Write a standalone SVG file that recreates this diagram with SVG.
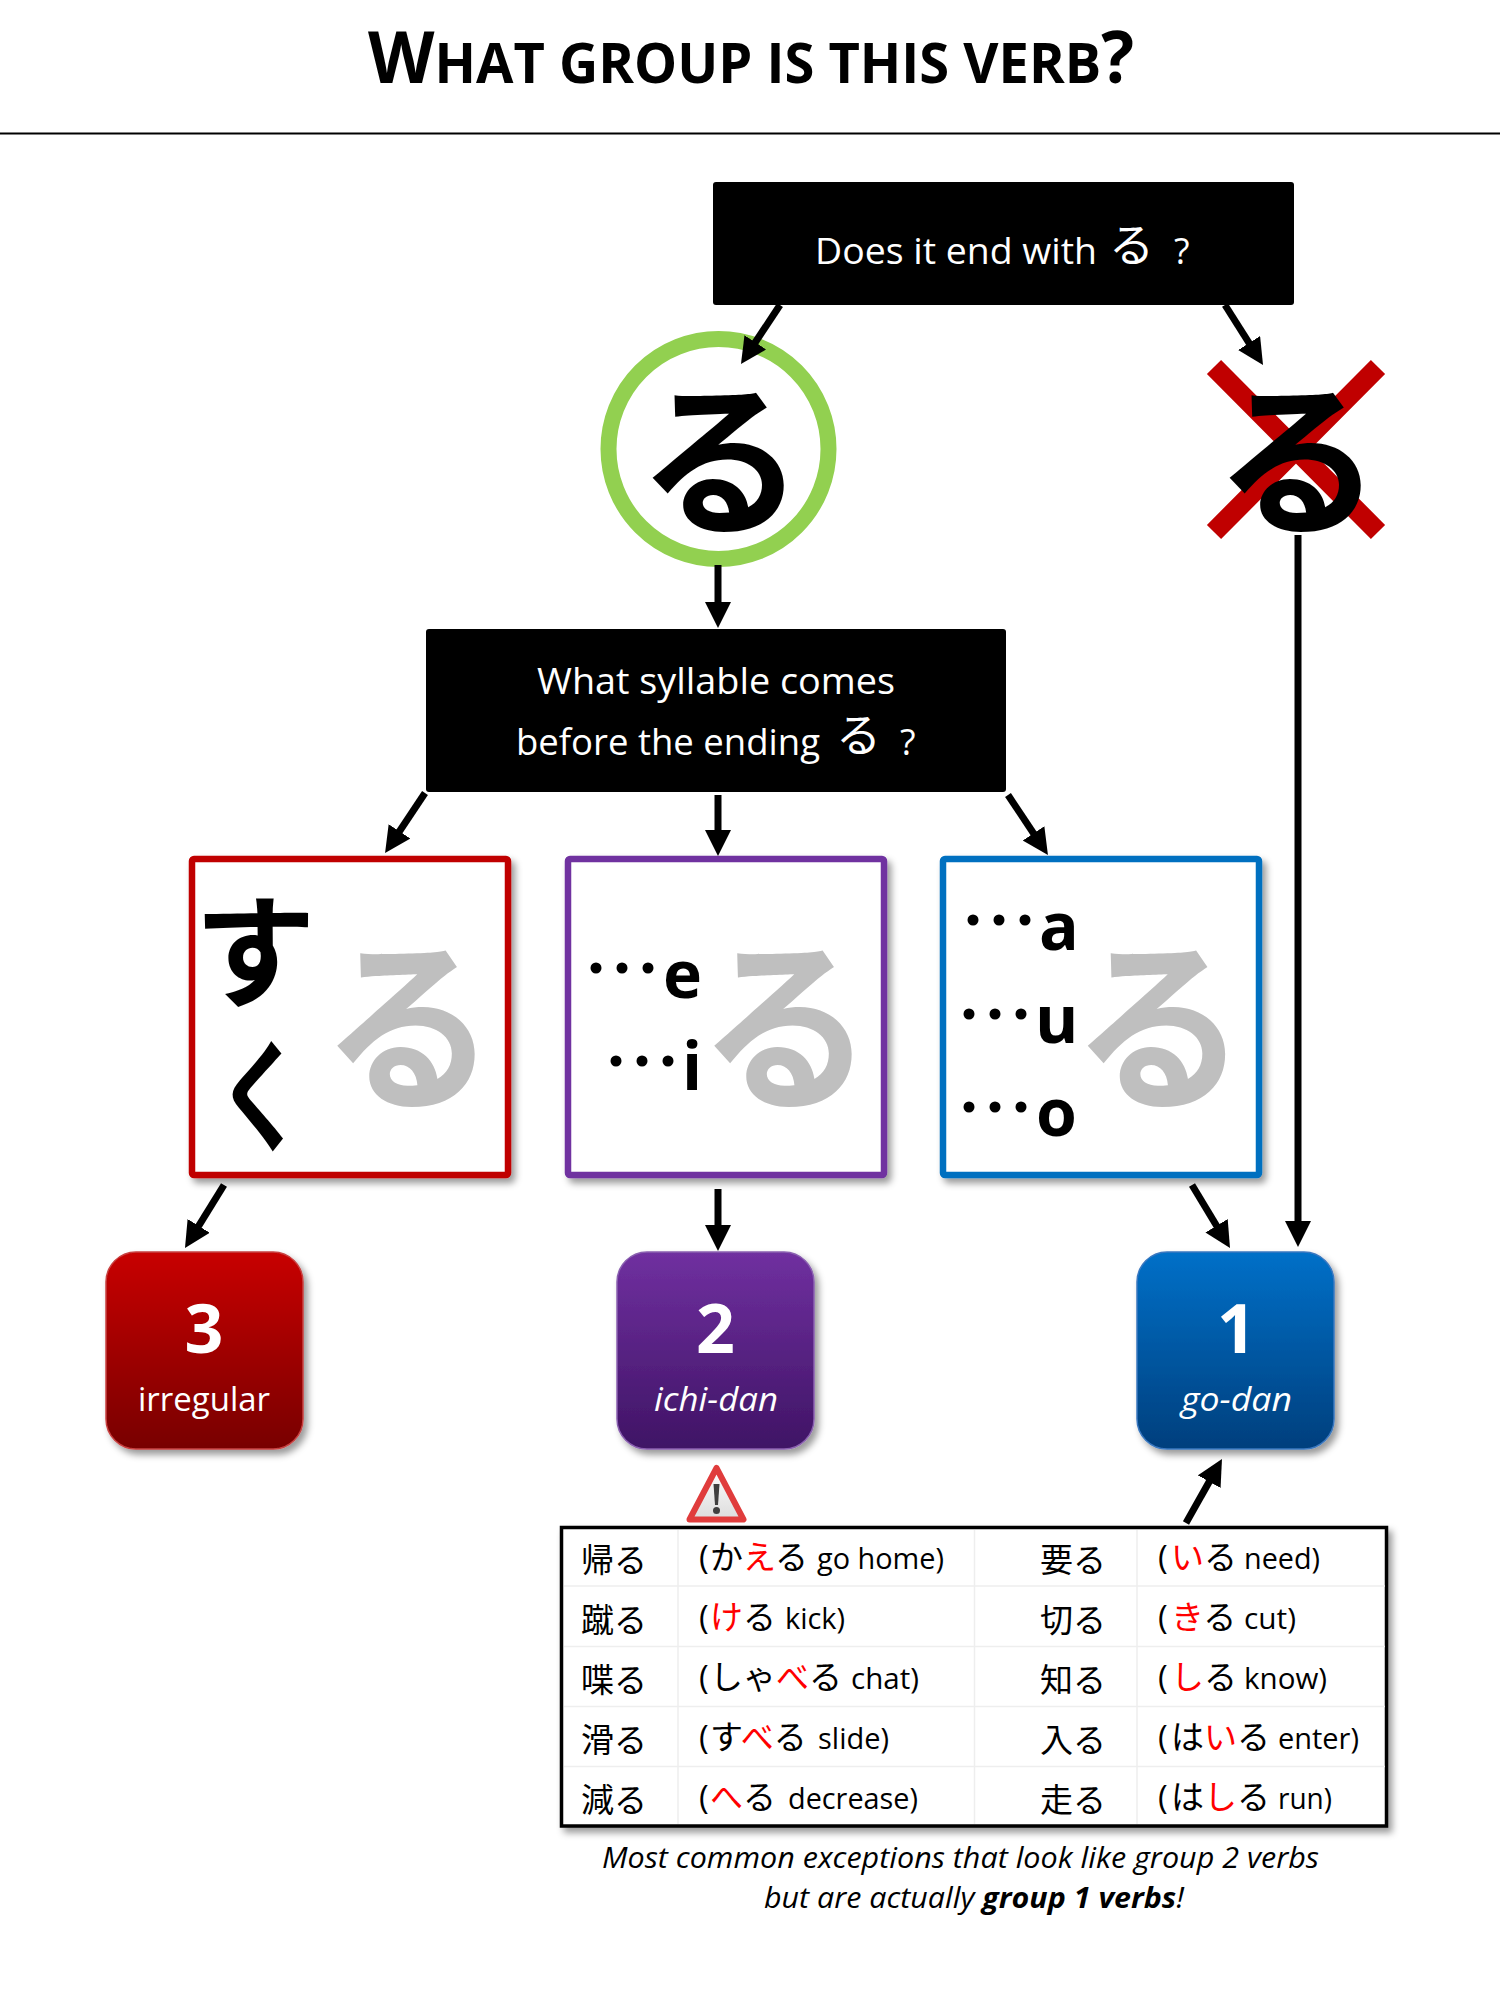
<svg xmlns="http://www.w3.org/2000/svg" width="1500" height="2000" viewBox="0 0 1500 2000">
<defs>
<style>
text{font-family:"Open Sans","Noto Sans",sans-serif}
.jp{font-family:"Noto Sans CJK JP",sans-serif}
.w{fill:#fff}
.q{font-size:36px;fill:#fff}
.gr{font-family:"Noto Sans CJK JP",sans-serif;font-size:187px;font-weight:700;fill:#bfbfbf;text-anchor:middle}
.bk{font-family:"Noto Sans CJK JP",sans-serif;font-size:166px;font-weight:700;fill:#000;text-anchor:middle}
.lt{font-size:66px;font-weight:700;fill:#000}
.num{font-size:68px;font-weight:700;fill:#fff;text-anchor:middle}
.t{font-size:33px;font-family:"Noto Sans CJK JP",sans-serif;fill:#000}
.r{fill:#f00}
.l{font-size:29px;fill:#000}
.p{font-size:33px;font-family:"Open Sans",sans-serif}
.d{fill:#000}
.g{fill:none;stroke:#eee;stroke-width:1.5}
.c{fill:none;stroke:#000;stroke-width:7;marker-end:url(#arrow)}
.sq{fill:#fff;stroke-width:6.5}
</style>
<marker id="arrow" markerUnits="userSpaceOnUse" markerWidth="28" markerHeight="28" refX="14" refY="13" orient="auto"><path d="M0 0L26 13L0 26z" fill="#000"/></marker>
<filter id="sh" x="-10%" y="-10%" width="125%" height="125%"><feDropShadow dx="4" dy="5" stdDeviation="3.500" flood-color="#000" flood-opacity="0.4"/></filter>
<linearGradient id="gr" x1="0" y1="0" x2="0" y2="1"><stop offset="0" stop-color="#c80000"/><stop offset="1" stop-color="#780000"/></linearGradient>
<linearGradient id="gp" x1="0" y1="0" x2="0" y2="1"><stop offset="0" stop-color="#7030a0"/><stop offset="1" stop-color="#3f1465"/></linearGradient>
<linearGradient id="gb" x1="0" y1="0" x2="0" y2="1"><stop offset="0" stop-color="#0070c8"/><stop offset="1" stop-color="#003f7d"/></linearGradient>
<linearGradient id="gw" x1="0" y1="0" x2="0" y2="1"><stop offset="0" stop-color="#ffffff"/><stop offset="1" stop-color="#dcdcdc"/></linearGradient>
</defs>
<rect width="1500" height="2000" fill="#fff"/>
<g id="title">
<text x="368" y="83" font-weight="700" textLength="766" lengthAdjust="spacingAndGlyphs"><tspan font-size="71">W</tspan><tspan font-size="56">HAT GROUP IS THIS VERB</tspan><tspan font-size="71">?</tspan></text>
<line x1="0" y1="133.500" x2="1500" y2="133.500" stroke="#000" stroke-width="2"/>
</g>
<g id="q1">
<rect x="713" y="182" width="581" height="123" rx="3" fill="#000"/>
<text class="q" x="815" y="264" textLength="282" lengthAdjust="spacingAndGlyphs">Does it end with</text>
<text class="jp w" x="1109" y="262" font-size="45">る</text>
<text class="q" x="1174" y="264">?</text>
</g>
<g id="yes">
<circle cx="718.500" cy="449" r="110" fill="#fff" stroke="#92d050" stroke-width="16"/>
<text class="bk" x="721" y="522">る</text>
</g>
<g id="no">
<path d="M1214 367L1378 532M1378 367L1214 532" stroke="#c00000" stroke-width="20" fill="none"/>
<text class="bk" x="1298" y="522">る</text>
</g>
<g id="q2">
<rect x="426" y="629" width="580" height="163" rx="3" fill="#000"/>
<text class="q" x="537" y="694" textLength="358" lengthAdjust="spacingAndGlyphs">What syllable comes</text>
<text class="q" x="516" y="755" textLength="304" lengthAdjust="spacingAndGlyphs">before the ending</text>
<text class="jp w" x="836" y="752" font-size="45">る</text>
<text class="q" x="900" y="755">?</text>
</g>
<g id="box-red">
<rect class="sq" x="192" y="859" width="316" height="316" rx="2" stroke="#c00000" filter="url(#sh)"/>
<text class="bk" style="font-size:122px;text-anchor:start" x="194" y="997">す</text>
<text class="bk" style="font-size:122px" transform="translate(261 1141) scale(.72 1)">く</text>
<text class="gr" transform="translate(409 1096) scale(.93 1)">る</text>
</g>
<g id="box-purple">
<rect class="sq" x="568" y="859" width="316" height="316" rx="2" stroke="#7030a0" filter="url(#sh)"/>
<g class="d"><circle cx="596" cy="968" r="5.500"/><circle cx="622" cy="968" r="5.500"/><circle cx="648" cy="968" r="5.500"/><circle cx="616" cy="1061" r="5.500"/><circle cx="642" cy="1061" r="5.500"/><circle cx="668" cy="1061" r="5.500"/></g>
<text class="lt" x="663" y="998">e</text>
<text class="lt" x="682" y="1090">i</text>
<text class="gr" transform="translate(786 1096) scale(.93 1)">る</text>
</g>
<g id="box-blue">
<rect class="sq" x="943" y="859" width="316" height="316" rx="2" stroke="#0070c0" filter="url(#sh)"/>
<g class="d"><circle cx="973" cy="920" r="5.500"/><circle cx="999" cy="920" r="5.500"/><circle cx="1025" cy="920" r="5.500"/><circle cx="969" cy="1014" r="5.500"/><circle cx="995" cy="1014" r="5.500"/><circle cx="1021" cy="1014" r="5.500"/><circle cx="969" cy="1107" r="5.500"/><circle cx="995" cy="1107" r="5.500"/><circle cx="1021" cy="1107" r="5.500"/></g>
<text class="lt" x="1039" y="950">a</text>
<text class="lt" x="1035" y="1043">u</text>
<text class="lt" x="1036" y="1136">o</text>
<text class="gr" transform="translate(1159.500 1096) scale(.93 1)">る</text>
</g>
<g id="group3">
<rect x="106" y="1252" width="197" height="197" rx="30" fill="url(#gr)" stroke="#c84040" stroke-width="1.500" filter="url(#sh)"/>
<text class="num" x="204" y="1353">3</text>
<text class="w" x="138" y="1411" font-size="33" textLength="132" lengthAdjust="spacingAndGlyphs">irregular</text>
</g>
<g id="group2">
<rect x="617" y="1252" width="197" height="197" rx="30" fill="url(#gp)" stroke="#8a60b0" stroke-width="1.500" filter="url(#sh)"/>
<text class="num" x="715.500" y="1353">2</text>
<text class="w" x="654" y="1411" font-size="33" font-style="italic" textLength="124" lengthAdjust="spacingAndGlyphs">ichi-dan</text>
</g>
<g id="group1">
<rect x="1137" y="1252" width="197" height="197" rx="30" fill="url(#gb)" stroke="#3a78c0" stroke-width="1.500" filter="url(#sh)"/>
<text class="num" x="1236.500" y="1353">1</text>
<text class="w" x="1181" y="1411" font-size="33" font-style="italic" textLength="111" lengthAdjust="spacingAndGlyphs">go-dan</text>
</g>
<g id="warning">
<path d="M716.500 1468L743.500 1519.500H689.500z" fill="url(#gw)" stroke="#e03c3c" stroke-width="6" stroke-linejoin="round"/>
<path d="M713.500 1484h6l-1.500 21h-3z" fill="#404040"/>
<circle cx="716.500" cy="1510.500" r="3.500" fill="#404040"/>
</g>
<g id="table">
<rect x="561.500" y="1527.500" width="825" height="298.500" fill="#fff" stroke="#000" stroke-width="3.500" filter="url(#sh)"/>
<path class="g" d="M678 1530V1824M974.500 1530V1824M1137 1530V1824M564 1586H1385M564 1646.500H1385M564 1706.500H1385M564 1766.500H1385"/>
<text class="t" x="581" y="1571.500">帰る</text>
<text class="t" x="581" y="1631.500">蹴る</text>
<text class="t" x="581" y="1691.500">喋る</text>
<text class="t" x="581" y="1751.500">滑る</text>
<text class="t" x="581" y="1811.500">減る</text>
<text class="t" x="1040" y="1571.500">要る</text>
<text class="t" x="1040" y="1631.500">切る</text>
<text class="t" x="1040" y="1691.500">知る</text>
<text class="t" x="1040" y="1751.500">入る</text>
<text class="t" x="1040" y="1811.500">走る</text>
<text class="p" x="699" y="1569">(</text><text class="t" x="710" y="1569">か<tspan class="r">え</tspan>る</text><text class="l" x="817" y="1569" textLength="127" lengthAdjust="spacingAndGlyphs">go home)</text>
<text class="p" x="699" y="1629">(</text><text class="t" x="710" y="1629"><tspan class="r">け</tspan>る</text><text class="l" x="785" y="1629" textLength="60" lengthAdjust="spacingAndGlyphs">kick)</text>
<text class="p" x="699" y="1689">(</text><text class="t" x="710" y="1689">しゃ<tspan class="r">べ</tspan>る</text><text class="l" x="851" y="1689" textLength="68" lengthAdjust="spacingAndGlyphs">chat)</text>
<text class="p" x="699" y="1749">(</text><text class="t" x="710" y="1749">す<tspan class="r">べ</tspan>る</text><text class="l" x="818" y="1749" textLength="71" lengthAdjust="spacingAndGlyphs">slide)</text>
<text class="p" x="699" y="1809">(</text><text class="t" x="710" y="1809"><tspan class="r">へ</tspan>る</text><text class="l" x="788" y="1809" textLength="130" lengthAdjust="spacingAndGlyphs">decrease)</text>
<text class="p" x="1158" y="1569">(</text><text class="t" x="1171" y="1569"><tspan class="r">い</tspan>る</text><text class="l" x="1244" y="1569" textLength="76" lengthAdjust="spacingAndGlyphs">need)</text>
<text class="p" x="1158" y="1629">(</text><text class="t" x="1171" y="1629"><tspan class="r">き</tspan>る</text><text class="l" x="1244" y="1629" textLength="52" lengthAdjust="spacingAndGlyphs">cut)</text>
<text class="p" x="1158" y="1689">(</text><text class="t" x="1171" y="1689"><tspan class="r">し</tspan>る</text><text class="l" x="1244" y="1689" textLength="83" lengthAdjust="spacingAndGlyphs">know)</text>
<text class="p" x="1158" y="1749">(</text><text class="t" x="1171" y="1749">は<tspan class="r">い</tspan>る</text><text class="l" x="1278" y="1749" textLength="81" lengthAdjust="spacingAndGlyphs">enter)</text>
<text class="p" x="1158" y="1809">(</text><text class="t" x="1171" y="1809">は<tspan class="r">し</tspan>る</text><text class="l" x="1278" y="1809" textLength="54" lengthAdjust="spacingAndGlyphs">run)</text>
</g>
<g id="caption" font-style="italic" font-size="29">
<text x="602" y="1868" textLength="717" lengthAdjust="spacingAndGlyphs">Most common exceptions that look like group 2 verbs</text>
<text x="764" y="1908" textLength="420" lengthAdjust="spacingAndGlyphs">but are actually <tspan font-weight="700">group 1 verbs</tspan>!</text>
</g>
<g id="connectors">
<path class="c" d="M780 305L747.600 354"/>
<path class="c" d="M1225 305L1256.600 354.900"/>
<path class="c" d="M718 565V616"/>
<path class="c" d="M1298 535V1235"/>
<path class="c" d="M425 793L391.700 843"/>
<path class="c" d="M718 795V844"/>
<path class="c" d="M1008 795L1041.300 845"/>
<path class="c" d="M224 1185L191.300 1237.800"/>
<path class="c" d="M718 1189V1239"/>
<path class="c" d="M1192 1185L1223.800 1237.700"/>
<path class="c" d="M1186 1523L1216.100 1469.500"/>
</g>
</svg>
